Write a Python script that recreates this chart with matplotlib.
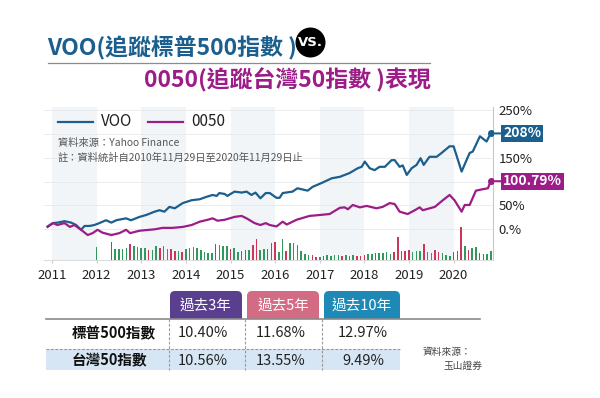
import numpy as np
import matplotlib
matplotlib.use('Agg')
import matplotlib.pyplot as plt
from matplotlib.patches import FancyBboxPatch, Rectangle, Circle

plt.rcParams['font.family'] = ['Noto Sans CJK TC', 'DejaVu Sans']

# ---- data ----
voo_t = [2010.90, 2011.02, 2011.12, 2011.28, 2011.43, 2011.54, 2011.65, 2011.73, 2011.84, 2011.95,
         2012.06, 2012.21, 2012.33, 2012.44, 2012.66, 2012.77, 2012.96, 2013.11, 2013.30, 2013.41,
         2013.52, 2013.63, 2013.75, 2013.93, 2014.13, 2014.31, 2014.46, 2014.60, 2014.69, 2014.75,
         2014.87, 2014.93, 2015.09, 2015.25, 2015.36, 2015.47, 2015.56, 2015.67, 2015.79, 2015.88,
         2016.03, 2016.10, 2016.17, 2016.39, 2016.50, 2016.73, 2016.84, 2017.04, 2017.27, 2017.45,
         2017.67, 2017.85, 2017.94, 2018.01, 2018.12, 2018.23, 2018.34, 2018.46, 2018.61, 2018.68,
         2018.79, 2018.86, 2018.95, 2019.06, 2019.17, 2019.26, 2019.33, 2019.46, 2019.62, 2019.73,
         2019.91, 2020.00, 2020.18, 2020.29, 2020.36, 2020.43, 2020.59, 2020.74, 2020.83]
voo_v = [6, 13, 14, 17, 14, 9, -1, 7, 7, 9,
         13, 19, 14, 19, 23, 19, 26, 30, 37, 40,
         37, 47, 44, 55, 61, 63, 68, 72, 70, 76,
         74, 70, 79, 77, 79, 72, 77, 65, 76, 76,
         66, 66, 76, 79, 86, 81, 89, 97, 107, 110,
         118, 128, 131, 142, 128, 124, 131, 131, 145, 145,
         131, 134, 114, 128, 135, 149, 135, 152, 152, 160,
         174, 174, 121, 145, 160, 163, 195, 184, 201]

tw_t = [2010.90, 2011.02, 2011.12, 2011.28, 2011.40, 2011.50, 2011.65, 2011.80, 2011.91, 2012.02,
        2012.13, 2012.33, 2012.51, 2012.66, 2012.75, 2012.96, 2013.30, 2013.48, 2013.70, 2013.93,
        2014.13, 2014.31, 2014.49, 2014.60, 2014.71, 2014.87, 2015.09, 2015.25, 2015.36, 2015.54,
        2015.67, 2015.79, 2015.88, 2016.03, 2016.17, 2016.26, 2016.48, 2016.77, 2017.00, 2017.22,
        2017.45, 2017.56, 2017.63, 2017.74, 2017.90, 2018.05, 2018.23, 2018.27, 2018.41, 2018.57,
        2018.68, 2018.79, 2018.97, 2019.13, 2019.24, 2019.31, 2019.58, 2019.76, 2019.91, 2020.02,
        2020.18, 2020.25, 2020.36, 2020.50, 2020.65, 2020.77, 2020.83]
tw_v = [5, 13, 9, 13, 5, 9, -1, -12, -8, -1,
        -7, -12, -8, -1, -8, -3, 0, 3, 3, 5,
        9, 16, 20, 23, 18, 20, 26, 28, 23, 13,
        9, 13, 9, 6, 16, 10, 20, 28, 30, 32,
        45, 46, 42, 51, 46, 49, 45, 44, 47, 55,
        53, 37, 32, 40, 46, 40, 47, 61, 72, 61,
        37, 51, 51, 81, 84, 86, 100.79]

end_labels = ['208%', '100.79%']

# monthly bars, Jan 2012 .. Nov 2020 (g = green, r = red)
vol = [13, 0, 0, 0, 18, 11, 11, 11, 12, 16, 14, 13,
       12, 12, 10, 10, 14, 12, 14, 11, 11, 9, 9, 8,
       11, 12, 13, 12, 10, 8, 7, 7, 16, 15, 14, 14,
       11, 12, 8, 9, 10, 10, 15, 21, 10, 11, 11, 17,
       18, 8, 21, 9, 17, 17, 15, 9, 6, 5, 5, 3,
       3, 4, 5, 4, 5, 5, 4, 5, 4, 5, 4, 4,
       5, 6, 6, 7, 7, 7, 8, 6, 8, 23, 9, 9,
       10, 8, 9, 9, 16, 8, 7, 10, 8, 7, 5, 4,
       8, 9, 33, 14, 10, 12, 13, 7, 6, 6, 9]
vol_dir = ('ggggrggggrgg'
           'ggrggrggrrgr'
           'ggggggggrggg'
           'rggrrgrrggrr'
           'rggrggggggrr'
           'grggggrgggrr'
           'rggrggggrrrr'
           'rgggrggrrggg'
           'rrrgrggrrgg')

years = list(range(2011, 2021))
shade_years = [2011, 2013, 2015, 2017, 2019]
ytick_vals = [0, 50, 150, 250]
ytick_labels = ['0.%', '50%', '150%', '250%']
grid_vals = [0, 50, 100, 150, 200, 250]

periods = ['過去3年', '過去5年', '過去10年']
rows = ['標普500指數', '台灣50指數']
table_vals = [['10.40%', '11.68%', '12.97%'],
              ['10.56%', '13.55%', '9.49%']]

blue = '#1b5f8e'
purple = '#9c1c88'
green = '#2f9a5c'
red = '#cf3459'
tab_colors = ['#5a3f8e', '#d26b83', '#1e88b6']

fig = plt.figure(figsize=(6, 3.98), dpi=100)
W, H = 600, 398

# ---- chart ----
ax = fig.add_axes([44 / W, 1 - 259.5 / H, (493.3 - 44) / W, (259.5 - 107) / H])
axb = ax.twinx()

ax.set_xlim(2010.82, 2020.89)
ax.set_ylim(-63.3, 256.4)
for y0 in shade_years:
    ax.axvspan(y0, y0 + 1, color='#f2f5f7', lw=0, zorder=0)
for g in grid_vals:
    ax.axhline(g, color='#e6e9ec', lw=0.6, zorder=0.5)
ax.plot(voo_t, voo_v, color=blue, lw=1.6, zorder=3)
ax.plot(tw_t, tw_v, color=purple, lw=1.6, zorder=3)

ax.yaxis.tick_right()
ax.yaxis.set_label_position('right')
ax.set_yticks(ytick_vals)
ax.set_yticklabels(ytick_labels)
ax.set_xticks(years)
ax.set_xticklabels([str(y) for y in years])
ax.tick_params(axis='y', length=0, pad=4, labelsize=9.5, labelcolor='#222222')
ax.tick_params(axis='x', length=2, color='#cccccc', pad=5, labelsize=9.5, labelcolor='#222222')
for s in ['left', 'top']:
    ax.spines[s].set_visible(False)
ax.spines['right'].set_color('#c8c8c8')
ax.spines['bottom'].set_color('#dddddd')

axb.set_ylim(0, 152.5)
bar_x = [2012 + m / 12 for m in range(len(vol))]
bar_c = [green if d == 'g' else red for d in vol_dir[:len(vol)]]
axb.bar(bar_x, vol, width=0.035, color=bar_c, lw=0)
axb.axis('off')

for t, v, c, lab in [(voo_t[-1], voo_v[-1], blue, end_labels[0]),
                     (tw_t[-1], tw_v[-1], purple, end_labels[1])]:
    ax.plot(t, v, 'o', color=c, ms=4, zorder=4)
    ax.annotate(lab, xy=(t, v), xytext=(9, 0), textcoords='offset points',
                ha='left', va='center', color='white', fontsize=10, fontweight='bold',
                bbox=dict(boxstyle='square,pad=0.12', fc=c, ec='none'),
                arrowprops=dict(arrowstyle='-', color=c, lw=1.5, shrinkA=0, shrinkB=0),
                annotation_clip=False, zorder=5)

# ---- overlay for titles, legend, table ----
ov = fig.add_axes([0, 0, 1, 1], zorder=10)
ov.set_xlim(0, W)
ov.set_ylim(H, 0)
ov.axis('off')
ov.patch.set_alpha(0)

ov.text(47, 48.5, 'VOO(追蹤標普500指數 )', color=blue, fontsize=16.5, fontweight='bold',
        ha='left', va='center')
ov.add_patch(Circle((310.5, 42.5), 14.3, color='black'))
ov.text(310.5, 42.5, 'VS.', color='white', fontsize=9.5, fontweight='bold',
        ha='center', va='center', family='DejaVu Sans')
ov.plot([48, 430], [62.7, 62.7], color='#8c8c8c', lw=0.9)
ov.text(431, 80.3, '0050(追蹤台灣50指數 )表現', color=purple, fontsize=16.5, fontweight='bold',
        ha='right', va='center')

ov.plot([58, 93], [121.7, 121.7], color=blue, lw=1.6)
ov.text(101, 121.7, 'VOO', fontsize=11, ha='left', va='center', color='#222222')
ov.plot([148, 183], [121.7, 121.7], color=purple, lw=1.6)
ov.text(191, 121.7, '0050', fontsize=11, ha='left', va='center', color='#222222')
ov.text(58, 142.7, '資料來源：Yahoo Finance', fontsize=7.4, ha='left', va='center', color='#555555')
ov.text(58, 157.7, '註：資料統計自2010年11月29日至2020年11月29日止', fontsize=7.4,
        ha='left', va='center', color='#555555')

# table
tab_x = [(170, 242), (247, 319), (324, 400)]
val_cx = [203, 281, 363]
for (x0, x1), c, p in zip(tab_x, tab_colors, periods):
    ov.add_patch(FancyBboxPatch((x0 + 5, 291 + 5), x1 - x0 - 10, 27 - 10,
                                boxstyle='round,pad=5', fc=c, ec='none'))
    ov.add_patch(Rectangle((x0, 306), x1 - x0, 12.5, fc=c, ec='none'))
    ov.text((x0 + x1) / 2, 306, p, color='white', fontsize=10.5, ha='center', va='center')

ov.add_patch(Rectangle((46, 348.5), 354, 21.5, fc='#d6e6f4', ec='none'))
ov.plot([46, 480], [318.5, 318.5], color='#8a8a8a', lw=1.2)
ov.plot([46, 400], [348.5, 348.5], color='#9a9a9a', lw=0.8, ls=(0, (2.5, 1.5)))
for xv in [169, 244.5, 321.5]:
    ov.plot([xv, xv], [319, 370], color='#9a9a9a', lw=0.8, ls=(0, (2.5, 1.5)))
row_y = [333.3, 360.7]
for ry, rname, vals in zip(row_y, rows, table_vals):
    ov.text(72, ry, rname, fontsize=10.5, fontweight='bold', ha='left', va='center', color='#111111')
    for cx, v in zip(val_cx, vals):
        ov.text(cx, ry, v, fontsize=10.5, ha='center', va='center', color='#222222')

ov.text(423, 351.7, '資料來源：', fontsize=7, ha='left', va='center', color='#444444')
ov.text(482, 366, '玉山證券', fontsize=7, ha='right', va='center', color='#444444')

fig.savefig('out.png', dpi=100, facecolor='white')
